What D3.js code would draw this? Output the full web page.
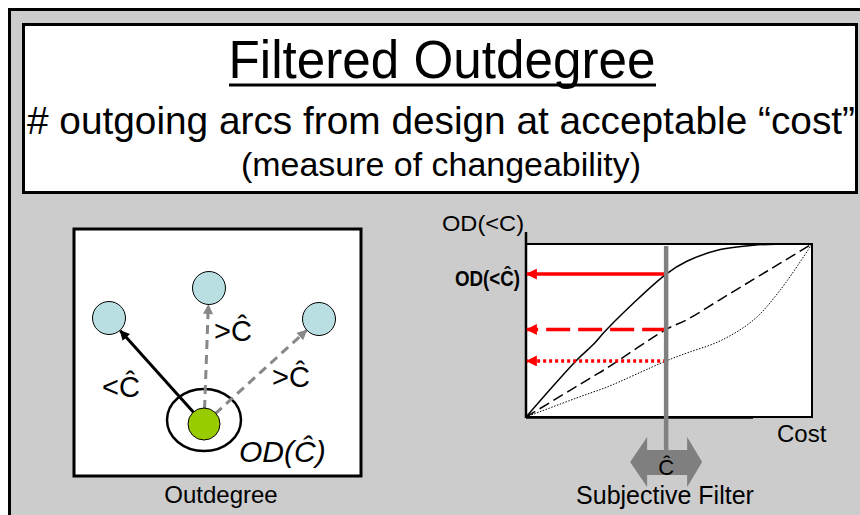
<!DOCTYPE html>
<html>
<head>
<meta charset="utf-8">
<script src="https://cdn.jsdelivr.net/npm/d3@7/dist/d3.min.js"></script>
<style>
  html, body { margin: 0; padding: 0; background: #fff; }
  svg { display: block; font-family: "Liberation Sans", Arial, sans-serif; }
</style>
</head>
<body>
<svg id="chart" width="860" height="515"></svg>
<script>
// cost axis samples (0..1) and the three OD curves
const costs       = [0, 0.177, 0.236, 0.282, 0.49, 0.5625, 0.679, 0.795, 0.889, 1];
const odConcave   = [0, 0.328, 0.42, 0.506, 0.826, 0.9, 0.968, 0.993, 0.999, 1];
const odLinear    = [0, 0.177, 0.236, 0.282, 0.506, 0.5625, 0.679, 0.795, 0.889, 1];
const odConvex    = [0, 0.11, 0.145, 0.172, 0.324, 0.37, 0.44, 0.56, 0.734, 1];
const filterCost  = 0.49;

// outdegree graph: target designs and arcs
const targets = [
  { name: "a", x: 109, y: 318, label: "<Ĉ", accepted: true },
  { name: "b", x: 209, y: 288, label: ">Ĉ", accepted: false },
  { name: "c", x: 319, y: 319, label: ">Ĉ", accepted: false },
];
const origin = { x: 204, y: 424 };

const svg = d3.select("#chart");

// outer frame
svg.append("rect").attr("x", 9.5).attr("y", 9.5).attr("width", 870).attr("height", 520)
  .attr("fill", "#cccccc").attr("stroke", "#000").attr("stroke-width", 3);

// title box
svg.append("rect").attr("x", 23.5).attr("y", 24.5).attr("width", 833).attr("height", 168)
  .attr("fill", "#fff").attr("stroke", "#000").attr("stroke-width", 3);

svg.append("text").attr("x", 442).attr("y", 78).attr("text-anchor", "middle")
  .attr("font-size", 53).attr("textLength", 427).attr("lengthAdjust", "spacingAndGlyphs")
  .text("Filtered Outdegree");
svg.append("line").attr("x1", 229).attr("x2", 656).attr("y1", 85).attr("y2", 85)
  .attr("stroke", "#000").attr("stroke-width", 3);

svg.append("text").attr("x", 441).attr("y", 134).attr("text-anchor", "middle")
  .attr("font-size", 39).attr("textLength", 828).attr("lengthAdjust", "spacingAndGlyphs")
  .text("# outgoing arcs from design at acceptable “cost”");

svg.append("text").attr("x", 441).attr("y", 176).attr("text-anchor", "middle")
  .attr("font-size", 33).attr("textLength", 400).attr("lengthAdjust", "spacingAndGlyphs")
  .text("(measure of changeability)");

// arrow markers
const defs = svg.append("defs");
function marker(id, color, w, h) {
  defs.append("marker").attr("id", id).attr("viewBox", "0 0 10 10")
    .attr("refX", 9).attr("refY", 5).attr("markerUnits", "userSpaceOnUse")
    .attr("markerWidth", w).attr("markerHeight", h).attr("orient", "auto")
    .append("path").attr("d", "M0,0L10,5L0,10Z").attr("fill", color);
}
marker("arrowBlack", "#000", 12, 10);
marker("arrowGrey", "#888", 12, 10);
marker("arrowRed", "#ff0000", 13, 11);

// ---- left panel: outdegree graph
const left = svg.append("g");
left.append("rect").attr("x", 74).attr("y", 229).attr("width", 287).attr("height", 247)
  .attr("fill", "#fff").attr("stroke", "#000").attr("stroke-width", 3);

left.append("ellipse").attr("cx", origin.x).attr("cy", origin.y - 4).attr("rx", 37).attr("ry", 31)
  .attr("fill", "none").attr("stroke", "#000").attr("stroke-width", 2.5);

for (const t of targets) {
  const dx = t.x - origin.x;
  const dy = t.y - origin.y;
  const len = Math.hypot(dx, dy);
  const start = t.accepted ? 0 : 15;
  const end = len - 17;
  left.append("line")
    .attr("x1", origin.x + dx / len * start).attr("y1", origin.y + dy / len * start)
    .attr("x2", origin.x + dx / len * end).attr("y2", origin.y + dy / len * end)
    .attr("stroke", t.accepted ? "#000" : "#888").attr("stroke-width", 3)
    .attr("stroke-dasharray", t.accepted ? null : "9,6")
    .attr("marker-end", t.accepted ? "url(#arrowBlack)" : "url(#arrowGrey)");
}

left.selectAll("circle.target").data(targets).join("circle").attr("class", "target")
  .attr("cx", (d) => d.x).attr("cy", (d) => d.y).attr("r", 16.5)
  .attr("fill", "#b9dfe2").attr("stroke", "#000").attr("stroke-width", 1);

left.append("circle").attr("cx", origin.x).attr("cy", origin.y).attr("r", 16)
  .attr("fill", "#99cc00").attr("stroke", "#000").attr("stroke-width", 1);

const labelPos = [[102, 397], [214, 341], [272, 387]];
targets.forEach((t, i) => {
  left.append("text").attr("x", labelPos[i][0]).attr("y", labelPos[i][1])
    .attr("font-size", 29).text(t.label);
});
left.append("text").attr("x", 239).attr("y", 462).attr("font-size", 30)
  .attr("font-style", "italic").text("OD(Ĉ)");
left.append("text").attr("x", 221).attr("y", 503).attr("text-anchor", "middle")
  .attr("font-size", 24).text("Outdegree");

// ---- right panel: OD vs cost
const plot = { left: 526, right: 812, top: 244, bottom: 417 };
const x = d3.scaleLinear().domain([0, 1]).range([plot.left, plot.right]);
const y = d3.scaleLinear().domain([0, 1]).range([plot.bottom, plot.top]);

const right = svg.append("g");
right.append("rect").attr("x", plot.left).attr("y", plot.top)
  .attr("width", plot.right - plot.left).attr("height", plot.bottom - plot.top)
  .attr("fill", "#fff").attr("stroke", "#000").attr("stroke-width", 2);
right.append("line").attr("x1", plot.left).attr("x2", plot.left).attr("y1", 232).attr("y2", plot.bottom + 1)
  .attr("stroke", "#000").attr("stroke-width", 2.5);
right.append("line").attr("x1", plot.left).attr("x2", 753).attr("y1", plot.bottom + 0.5).attr("y2", plot.bottom + 0.5)
  .attr("stroke", "#000").attr("stroke-width", 2.5);

const line = d3.line().x((d) => x(d[0])).y((d) => y(d[1])).curve(d3.curveCatmullRom.alpha(0.5));
const series = [
  { values: odConcave, dash: null, width: 1.5 },
  { values: odLinear, dash: "11,5", width: 1.5 },
  { values: odConvex, dash: "1.5,1.5", width: 1 },
];
for (const s of series) {
  right.append("path").datum(costs.map((c, i) => [c, s.values[i]]))
    .attr("d", line).attr("fill", "none").attr("stroke", "#000")
    .attr("stroke-width", s.width).attr("stroke-dasharray", s.dash);
}

// red read-off arrows at the filter cost
const readDash = [null, "24,8", "3,3"];
series.forEach((s, i) => {
  const level = d3.scaleLinear().domain(costs).range(s.values)(filterCost);
  right.append("line").attr("x1", x(filterCost)).attr("x2", plot.left + 1)
    .attr("y1", y(level)).attr("y2", y(level))
    .attr("stroke", "#ff0000").attr("stroke-width", 3.5)
    .attr("stroke-dasharray", readDash[i]).attr("marker-end", "url(#arrowRed)");
});

// subjective filter bar and double arrow
const fx = x(filterCost);
right.append("path")
  .attr("d", `M${fx - 36},462 L${fx - 19},437 L${fx - 19},450 L${fx + 21},450 L${fx + 21},437 L${fx + 36},462 L${fx + 21},487 L${fx + 21},475 L${fx - 19},475 L${fx - 19},487 Z`)
  .attr("fill", "#7f7f7f");
right.append("line").attr("x1", fx).attr("x2", fx).attr("y1", 246).attr("y2", 452)
  .attr("stroke", "#808080").attr("stroke-width", 4.5);
right.append("text").attr("x", fx).attr("y", 475).attr("text-anchor", "middle")
  .attr("font-size", 22).text("Ĉ");

right.append("text").attr("x", 665).attr("y", 504).attr("text-anchor", "middle")
  .attr("font-size", 25).text("Subjective Filter");
right.append("text").attr("x", 777).attr("y", 442).attr("font-size", 24).text("Cost");
right.append("text").attr("x", 442).attr("y", 231).attr("font-size", 22)
  .attr("textLength", 82).attr("lengthAdjust", "spacingAndGlyphs").text("OD(<C)");
right.append("text").attr("x", 455).attr("y", 286).attr("font-size", 22).attr("font-weight", "bold")
  .attr("textLength", 65).attr("lengthAdjust", "spacingAndGlyphs").text("OD(<Ĉ)");
</script>
</body>
</html>
